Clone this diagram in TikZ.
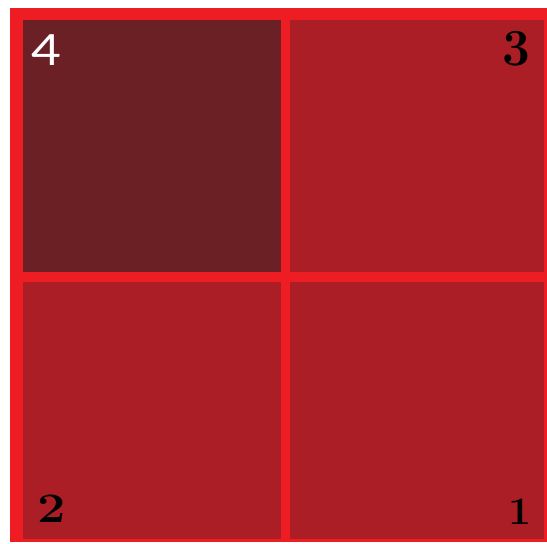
\documentclass[tikz,border=0pt]{standalone}
\usepackage{fontspec}
\newfontfamily\numsans[FakeStretch=1.2]{Lato}
\definecolor{frame}{HTML}{EE1D24}
\definecolor{darkcell}{HTML}{6A2024}
\definecolor{midcell}{HTML}{AB1E25}
\begin{document}
\begin{tikzpicture}[x=1pt,y=-1pt,
  cell/.style={draw=none,inner sep=0pt,outer sep=0pt},
  num/.style={inner sep=0pt,text=black}]
\useasboundingbox (0,0) rectangle (547,544);
\fill[white] (0,0) rectangle (547,544);
\begin{scope}
\clip (0,0) rectangle (547,544);
\node[cell,fill=frame,minimum width=547pt,minimum height=534pt] (frm) at (283.5,275) {};
\end{scope}
\node[cell,fill=darkcell,minimum width=258pt,minimum height=252pt] (c4) at (152,146) {};
\node[cell,fill=midcell,minimum width=254pt,minimum height=252pt] (c3) at (417,146) {};
\node[cell,fill=midcell,minimum width=258pt,minimum height=257pt] (c2) at (152,410.5) {};
\node[cell,fill=midcell,minimum width=254pt,minimum height=257pt] (c1) at (417,410.5) {};
\node[num,text=white,font=\numsans\fontsize{43}{43}\selectfont] (l4) at (46.5,50) {4};
\node[num,font=\fontsize{52}{52}\selectfont\bfseries] (l3) at (516.5,49) {\scalebox{0.95}[1]{3}};
\node[num,font=\fontsize{42}{42}\selectfont\bfseries] (l2) at (51.5,508.5) {\scalebox{1.2}[1]{2}};
\node[num,font=\fontsize{39}{39}\selectfont\bfseries] (l1) at (520,511.5) {\scalebox{1.05}[1]{1}};
\end{tikzpicture}
\end{document}
